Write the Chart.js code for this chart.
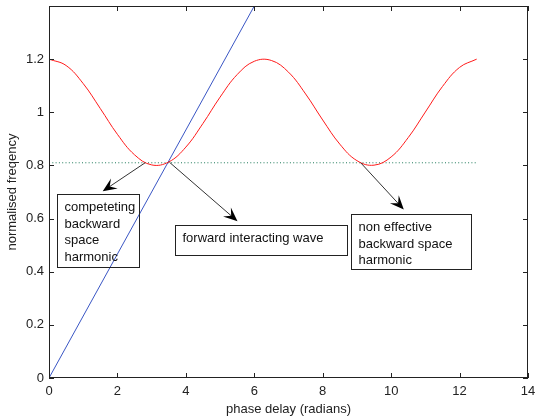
<!DOCTYPE html>
<html>
<head>
<meta charset="utf-8">
<script src="https://cdn.jsdelivr.net/npm/chart.js@4/dist/chart.umd.min.js"></script>
<style>
  html, body { margin: 0; padding: 0; background: #fff; }
  #wrap { width: 535px; height: 419px; }
</style>
</head>
<body>
<div id="wrap"><canvas id="myChart" width="535" height="419"></canvas></div>
<script>
// phase delay samples and the normalised frequency of the backward space harmonic
var phaseX = [0, 0.5, 1, 1.5, 2, 2.5, 3, 3.5, 4, 4.5, 5, 5.5, 6, 6.5, 7, 7.5, 8, 8.5, 9, 9.5, 10, 10.5, 11, 11.5, 12, 12.5];
var harmonicY = [1.2, 1.176, 1.108, 1.014, 0.917, 0.840, 0.802, 0.813, 0.869, 0.958, 1.057, 1.142, 1.192,
                 1.195, 1.151, 1.069, 0.971, 0.880, 0.818, 0.801, 0.832, 0.905, 1.001, 1.097, 1.169, 1.2];

// forward wave line
var waveX = [0, 6.0];
var waveY = [0, 1.4];

// operating frequency level
var levelX = [0, 12.5];
var levelY = [0.81, 0.81];

var xTicks = [0, 2, 4, 6, 8, 10, 12, 14];
var yTicks = [0, 0.2, 0.4, 0.6, 0.8, 1, 1.2];

function toPoints(xs, ys) {
    var pts = [];
    for (var i = 0; i < xs.length; i++) {
        pts.push({ x: xs[i], y: ys[i] });
    }
    return pts;
}

// text boxes with arrows, all placed in axis units
var notes = [
    { from: [2.81, 0.81], to: [1.57, 0.703], box: [0.23, 0.694, 2.64, 0.418],
      lines: ["competeting", "backward", "space", "harmonic"] },
    { from: [3.52, 0.812], to: [5.51, 0.59], box: [3.69, 0.574, 8.72, 0.464],
      lines: ["forward interacting wave"] },
    { from: [9.11, 0.81], to: [10.37, 0.634], box: [8.82, 0.619, 12.34, 0.41],
      lines: ["non effective", "backward space", "harmonic"] }
];

var FAMILY = "'Liberation Sans', Arial, sans-serif";
var FONT = "13px " + FAMILY;

function drawArrow(ctx, x1, y1, x2, y2) {
    var ang = Math.atan2(y2 - y1, x2 - x1);
    var len = 14, wid = 6;
    ctx.strokeStyle = '#333';
    ctx.lineWidth = 1;
    ctx.beginPath();
    ctx.moveTo(x1, y1);
    ctx.lineTo(x2 - Math.cos(ang) * 8, y2 - Math.sin(ang) * 8);
    ctx.stroke();
    // swept-back arrow head
    ctx.save();
    ctx.translate(x2, y2);
    ctx.rotate(ang);
    ctx.fillStyle = '#000';
    ctx.beginPath();
    ctx.moveTo(0, 0);
    ctx.lineTo(-len, -wid);
    ctx.lineTo(-len * 0.6, 0);
    ctx.lineTo(-len, wid);
    ctx.closePath();
    ctx.fill();
    ctx.restore();
}

const frameAndNotes = {
    id: 'frameAndNotes',
    afterDatasetsDraw(chart) {
        const ctx = chart.ctx;
        const a = chart.chartArea;
        const xs = chart.scales.x, ys = chart.scales.y;
        ctx.save();
        ctx.strokeStyle = '#222';
        ctx.lineWidth = 1;
        ctx.strokeRect(Math.round(a.left) + 0.5, Math.round(a.top) + 0.5,
            Math.round(a.right - a.left) - 1, Math.round(a.bottom - a.top) - 1);
        // inward tick marks on all four sides
        ctx.beginPath();
        xTicks.forEach(function (v) {
            var px = Math.round(xs.getPixelForValue(v)) + 0.5;
            ctx.moveTo(px, a.bottom); ctx.lineTo(px, a.bottom - 5);
            ctx.moveTo(px, a.top); ctx.lineTo(px, a.top + 5);
        });
        yTicks.forEach(function (v) {
            var py = Math.round(ys.getPixelForValue(v)) + 0.5;
            ctx.moveTo(a.left, py); ctx.lineTo(a.left + 5, py);
            ctx.moveTo(a.right, py); ctx.lineTo(a.right - 5, py);
        });
        ctx.stroke();

        notes.forEach(function (n) {
            drawArrow(ctx, xs.getPixelForValue(n.from[0]), ys.getPixelForValue(n.from[1]),
                xs.getPixelForValue(n.to[0]), ys.getPixelForValue(n.to[1]));
            var bx1 = Math.round(xs.getPixelForValue(n.box[0])) + 0.5;
            var by1 = Math.round(ys.getPixelForValue(n.box[1])) + 0.5;
            var bx2 = Math.round(xs.getPixelForValue(n.box[2])) + 0.5;
            var by2 = Math.round(ys.getPixelForValue(n.box[3])) + 0.5;
            ctx.strokeStyle = '#222';
            ctx.strokeRect(bx1, by1, bx2 - bx1, by2 - by1);
            ctx.fillStyle = '#111';
            ctx.font = FONT;
            ctx.textAlign = 'left';
            ctx.textBaseline = 'middle';
            n.lines.forEach(function (t, i) {
                ctx.fillText(t, bx1 + 7, by1 + 13 + i * 16.5);
            });
        });
        ctx.restore();
    }
};

const config = {
    type: 'scatter',
    data: {
        datasets: [{
            data: toPoints(phaseX, harmonicY),
            showLine: true,
            borderColor: '#ff1a1a',
            borderWidth: 1,
            pointRadius: 0,
            tension: 0.4
        }, {
            data: toPoints(waveX, waveY),
            showLine: true,
            borderColor: '#3a56c4',
            borderWidth: 1,
            pointRadius: 0
        }, {
            data: toPoints(levelX, levelY),
            showLine: true,
            borderColor: '#1f7a5a',
            borderWidth: 1,
            borderDash: [1, 2.3],
            pointRadius: 0
        }]
    },
    options: {
        responsive: false,
        animation: false,
        events: [],
        layout: { padding: { top: 6, right: 7, left: 0, bottom: 0 } },
        plugins: { legend: { display: false }, tooltip: { enabled: false } },
        scales: {
            x: {
                type: 'linear',
                min: 0, max: 14,
                grid: { display: false, drawTicks: false },
                border: { display: false },
                afterBuildTicks: function (s) { s.ticks = xTicks.map(function (v) { return { value: v }; }); },
                afterFit: function (s) { s.height = 41; s.paddingLeft = 0; s.paddingRight = 0; },
                ticks: { font: { family: FAMILY, size: 13 }, color: '#222', padding: 6, maxRotation: 0,
                    callback: function (v) { return String(v); } },
                title: { display: true, text: 'phase delay (radians)', color: '#222',
                    font: { family: FAMILY, size: 13 }, padding: { top: 0, bottom: 2 } }
            },
            y: {
                type: 'linear',
                min: 0, max: 1.4,
                grid: { display: false, drawTicks: false },
                border: { display: false },
                afterBuildTicks: function (s) { s.ticks = yTicks.map(function (v) { return { value: v }; }); },
                afterFit: function (s) { s.width = 49; s.paddingTop = 0; s.paddingBottom = 0; },
                ticks: { font: { family: FAMILY, size: 13 }, color: '#222', padding: 5,
                    callback: function (v) { return String(v); } },
                title: { display: true, text: 'normalised freqency', color: '#222',
                    font: { family: FAMILY, size: 13 }, padding: { top: 5, bottom: 0 } }
            }
        }
    },
    plugins: [frameAndNotes]
};

const myChart = new Chart(document.getElementById('myChart'), config);
</script>
</body>
</html>
